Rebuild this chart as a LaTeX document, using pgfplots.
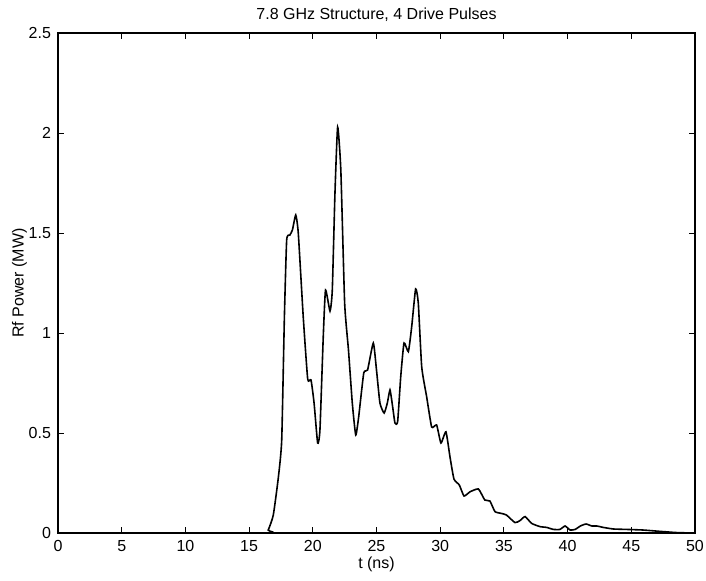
\documentclass[border=0pt]{standalone}
\usepackage{pgfplots}
\pgfplotsset{compat=1.18}
\usepackage{fontspec}
\setmainfont{Liberation Sans}
\begin{document}
\begin{tikzpicture}
\begin{axis}[
  scale only axis,
  width=318.5pt, height=250pt,
  xmin=0, xmax=50, ymin=0, ymax=2.5,
  xtick={0,5,...,50},
  ytick={0,0.5,1,1.5,2,2.5},
  yticklabels={0,0.5,1,1.5,2,2.5},
  tick align=inside,
  major tick length=3pt,
  tick style={black, line width=0.5pt},
  axis line style={line width=0.6pt},
  ticklabel style={font=\footnotesize},
  /pgf/number format/assume math mode=true,
  title={7.8 GHz Structure, 4 Drive Pulses},
  title style={font=\footnotesize, yshift=-4pt},
  xlabel={t (ns)},
  ylabel={Rf Power (MW)},
  label style={font=\footnotesize},
  xlabel style={yshift=4pt},
  ylabel style={yshift=-6pt},
]
\addplot[black, line width=0.8pt, smooth, tension=0.3] coordinates {
(0,0) (16.2,0) (16.5,0.015) (16.9,0.09) (17.3,0.28) (17.56,0.465) (17.77,1.08)
(17.95,1.465) (18.2,1.49) (18.4,1.515) (18.66,1.59) (18.86,1.5) (19.25,1.08)
(19.6,0.77) (19.86,0.765) (20.1,0.65) (20.38,0.45) (20.56,0.515) (20.82,0.98)
(21.0,1.215) (21.35,1.11) (21.53,1.215) (21.74,1.7) (21.95,2.03) (22.2,1.815)
(22.5,1.15) (22.8,0.915) (23.1,0.65) (23.37,0.49) (23.6,0.58) (24.0,0.8)
(24.3,0.815) (24.75,0.95) (25.0,0.815) (25.27,0.65) (25.6,0.6) (25.85,0.65)
(26.06,0.715) (26.27,0.63) (26.45,0.55) (26.66,0.557) (26.9,0.78) (27.16,0.95)
(27.5,0.907) (27.76,1.03) (28.07,1.22) (28.28,1.15) (28.55,0.83) (28.94,0.68)
(29.33,0.53) (29.72,0.54) (30.06,0.45) (30.45,0.506) (30.77,0.38) (31.08,0.27)
(31.5,0.24) (31.87,0.185) (32.34,0.206) (33.0,0.22) (33.5,0.165) (33.9,0.16)
(34.3,0.107) (34.8,0.098) (35.2,0.09) (35.87,0.052) (36.26,0.062) (36.66,0.082)
(37.18,0.048) (37.83,0.032) (38.36,0.028) (38.88,0.018) (39.4,0.018) (39.8,0.035)
(40.2,0.015) (40.6,0.018) (41.0,0.035) (41.45,0.045) (41.9,0.035) (42.3,0.035)
(42.8,0.028) (43.6,0.02) (44.6,0.018) (45.9,0.015) (47.3,0.008) (48.6,0.002) (50,0)
};
\end{axis}
\pgfresetboundingbox
\useasboundingbox (-29pt,-23.5pt) rectangle (324pt,266.5pt);
\end{tikzpicture}
\end{document}
